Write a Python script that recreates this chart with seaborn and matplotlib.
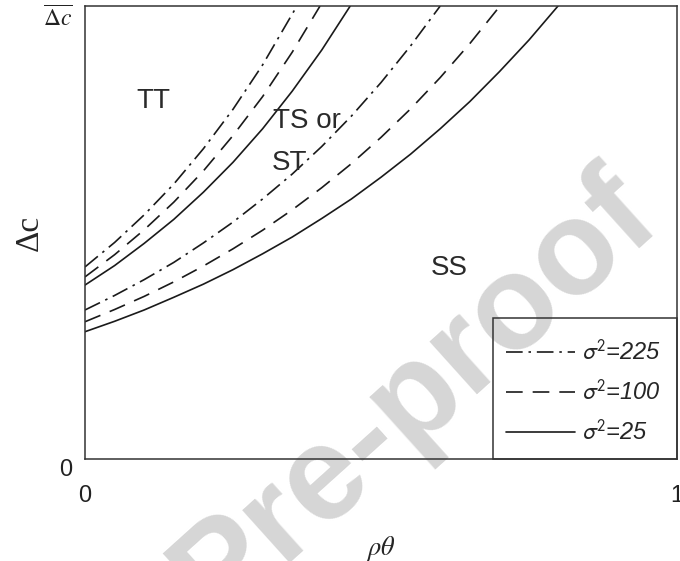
import numpy as np
import pandas as pd
import matplotlib
matplotlib.use("Agg")
import matplotlib.pyplot as plt
from matplotlib.font_manager import FontProperties
from matplotlib.patches import Rectangle
import seaborn as sns

# curves: rho*theta (x) vs delta c (y), two branches per sigma^2
x_225_in = [0, 0.05, 0.1, 0.15, 0.2, 0.25, 0.3, 0.358]
y_225_in = [0.424, 0.478, 0.539, 0.607, 0.685, 0.772, 0.870, 1.0]
x_100_in = [0, 0.05, 0.1, 0.15, 0.2, 0.25, 0.3, 0.35, 0.397]
y_100_in = [0.402, 0.451, 0.506, 0.567, 0.636, 0.714, 0.800, 0.898, 1.0]
x_25_in = [0, 0.05, 0.1, 0.15, 0.2, 0.25, 0.3, 0.35, 0.4, 0.448]
y_25_in = [0.384, 0.427, 0.476, 0.529, 0.589, 0.655, 0.729, 0.812, 0.903, 1.0]

x_225_out = [0, 0.05, 0.1, 0.15, 0.2, 0.25, 0.3, 0.35, 0.4, 0.45, 0.5, 0.55, 0.6]
y_225_out = [0.329, 0.361, 0.396, 0.434, 0.477, 0.523, 0.574, 0.629, 0.690, 0.757, 0.831, 0.912, 1.0]
x_100_out = [0, 0.05, 0.1, 0.15, 0.2, 0.25, 0.3, 0.35, 0.4, 0.45, 0.5, 0.55, 0.6, 0.65, 0.701]
y_100_out = [0.303, 0.330, 0.359, 0.391, 0.426, 0.464, 0.505, 0.550, 0.599, 0.652, 0.710, 0.773, 0.842, 0.917, 1.0]
x_25_out = [0, 0.05, 0.1, 0.15, 0.2, 0.25, 0.3, 0.35, 0.4, 0.45, 0.5, 0.55, 0.6, 0.65, 0.7, 0.75, 0.799]
y_25_out = [0.281, 0.304, 0.329, 0.357, 0.386, 0.418, 0.453, 0.490, 0.531, 0.574, 0.622, 0.673, 0.729, 0.789, 0.855, 0.925, 1.0]

sigma_labels = [r'$\sigma^2$=225', r'$\sigma^2$=100', r'$\sigma^2$=25']

# build long-form table
parts = []
for lab, xs, ys, br in [
    (sigma_labels[0], x_225_in, y_225_in, 'in225'),
    (sigma_labels[1], x_100_in, y_100_in, 'in100'),
    (sigma_labels[2], x_25_in, y_25_in, 'in25'),
    (sigma_labels[0], x_225_out, y_225_out, 'out225'),
    (sigma_labels[1], x_100_out, y_100_out, 'out100'),
    (sigma_labels[2], x_25_out, y_25_out, 'out25'),
]:
    parts.append(pd.DataFrame({'rt': xs, 'dc': ys, 'sigma': lab, 'branch': br}))
df = pd.concat(parts, ignore_index=True)

sns.set_style('white')
plt.rcParams['font.family'] = ['Liberation Sans', 'DejaVu Sans']

fig = plt.figure(figsize=(6.8, 5.61), dpi=100)
fig.patch.set_facecolor('white')
ax = fig.add_axes([0.125, 0.1818, 0.8706, 0.8075])
ax.set_facecolor('none')

dash_map = {sigma_labels[0]: (10, 3.5, 1.5, 3.5),
            sigma_labels[1]: (10, 6),
            sigma_labels[2]: ''}

sns.lineplot(data=df, x='rt', y='dc', style='sigma', units='branch',
             estimator=None, style_order=sigma_labels, dashes=dash_map,
             color='#1a1a1a', linewidth=1.2, ax=ax)

ax.set_xlim(0, 1)
ax.set_ylim(0, 1)
ax.set_xticks([0, 1])
ax.set_xticklabels(['0', '1'], fontsize=17)
ax.set_yticks([0, 1])
ax.set_yticklabels(['0', r'$\overline{\Delta c}$'], fontsize=17)
for t in ax.get_yticklabels():
    t.set_va('top')
ax.get_yticklabels()[1].set_math_fontfamily('stix')
ax.tick_params(axis='x', length=0, pad=19, colors='#222')
ax.tick_params(axis='y', length=0, pad=9, colors='#222')

ax.set_xlabel(r'$\rho\theta$', fontsize=19, math_fontfamily='stix')
ax.xaxis.set_label_coords(0.5, -0.166)
ax.set_ylabel('Δc', fontsize=24, family='Liberation Serif')
ax.yaxis.set_label_coords(-0.068, 0.5)

for s in ax.spines.values():
    s.set_color('#333333')
    s.set_linewidth(1.1)

# region labels
txt_kw = dict(fontsize=20, color='#2a2a2a')
ax.text(0.115, 0.790, 'TT', ha='center', va='center', **txt_kw)
ax.text(0.318, 0.746, 'TS or', ha='left', va='center', **txt_kw)
ax.text(0.316, 0.653, 'ST', ha='left', va='center', **txt_kw)
ax.text(0.615, 0.422, 'SS', ha='center', va='center', **txt_kw)

# legend box drawn separately, legend entries placed inside it
ax.add_patch(Rectangle((0.689, 0.0), 0.311, 0.311, transform=ax.transAxes,
                       fill=False, edgecolor='#333333', linewidth=1.1,
                       clip_on=False, zorder=5))
handles, labels = ax.get_legend_handles_labels()
prop = FontProperties(family='Liberation Sans', style='italic', size=17,
                      math_fontfamily='stixsans')
leg = ax.legend(handles, labels, loc='center', bbox_to_anchor=(0.842, 0.147),
                frameon=False, prop=prop, handlelength=2.9, handletextpad=0.3,
                labelspacing=0.62, borderpad=0)

# journal watermark behind everything
fig.text(438 / 680, 1 - 421 / 561, 'Pre-proof', rotation=42, fontsize=96,
         fontweight='bold', color='#d6d6d6', ha='center', va='baseline',
         rotation_mode='anchor', zorder=-1)

fig.savefig('out.png', dpi=100)
